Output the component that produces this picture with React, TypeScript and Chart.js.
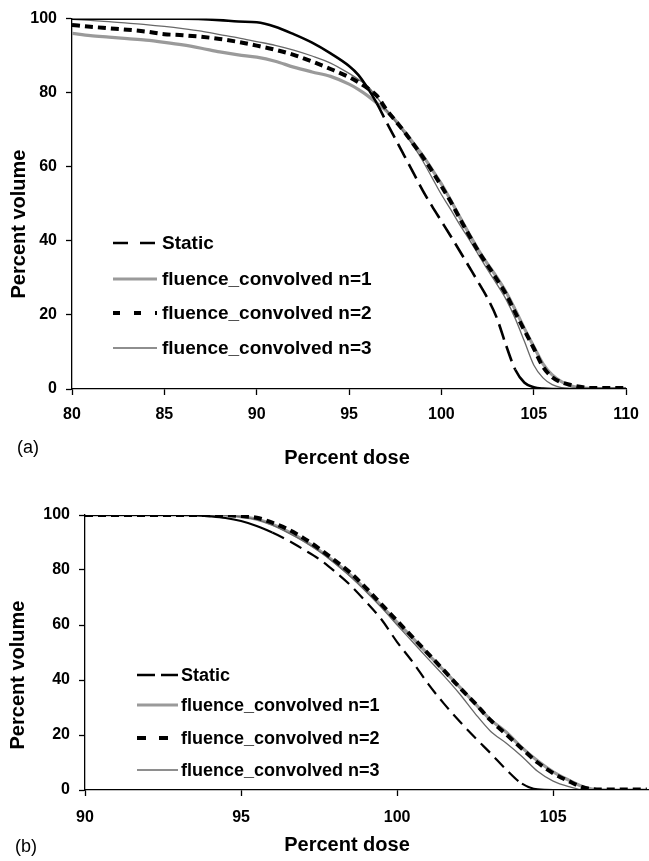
import React, { useEffect, useRef } from "react";
import { Chart, registerables } from "chart.js";

Chart.register(...registerables);

const FONT = "'Liberation Sans', Arial, Helvetica, sans-serif";

const SERIES_LABELS = [
  "Static",
  "fluence_convolved n=1",
  "fluence_convolved n=2",
  "fluence_convolved n=3",
];
const Y_TICKS = [0, 20, 40, 60, 80, 100];
const X_TITLE = "Percent dose";
const Y_TITLE = "Percent volume";

// ---------- Panel (a) ----------
const A_X_TICKS = [80, 85, 90, 95, 100, 105, 110];
const A_STATIC_DOSE = [80, 86, 88, 89, 90, 91, 92, 93, 94, 95, 95.5, 96, 96.5, 97, 97.5, 98, 98.5, 99, 99.5, 100, 100.5, 101, 101.5, 102, 102.5, 103, 103.5, 104, 104.5, 105, 105.5, 106, 110];
const A_STATIC_VOL = [100, 100, 99.6, 99.2, 99.0, 97.8, 95.8, 93.5, 90.6, 87.2, 84.8, 81.3, 77.2, 72.3, 67.6, 62.9, 58.2, 53.5, 49.3, 45.3, 41.3, 37.2, 33.0, 28.8, 24.5, 19.2, 11.8, 5.2, 1.7, 0.5, 0.1, 0, 0];
const A_CONV_DOSE = [80, 81, 82, 83, 84, 85, 86, 87, 88, 89, 90, 91, 92, 93, 94, 95, 95.5, 96, 96.5, 97, 97.5, 98, 98.5, 99, 99.5, 100, 100.5, 101, 101.5, 102, 102.5, 103, 103.5, 104, 104.5, 105, 105.5, 106, 106.5, 107, 107.5, 108, 110];
const A_N1_VOL = [96.0, 95.4, 95.0, 94.6, 94.2, 93.6, 92.9, 92.0, 91.0, 90.2, 89.6, 88.5, 86.9, 85.6, 84.4, 82.3, 80.9, 79.2, 77.2, 75.2, 72.6, 69.5, 66.3, 63.0, 59.2, 55.4, 51.0, 46.4, 41.9, 37.6, 33.8, 30.2, 26.2, 21.4, 16.3, 11.5, 6.8, 3.8, 2.0, 0.9, 0.4, 0.2, 0.1];
const A_N2_VOL = [98.3, 97.8, 97.4, 97.0, 96.5, 95.8, 95.5, 95.1, 94.5, 93.7, 92.7, 91.6, 90.2, 88.4, 86.4, 84.2, 82.8, 81.2, 79.2, 75.6, 72.5, 69.4, 66.0, 62.6, 58.8, 54.8, 50.6, 46.0, 41.5, 37.2, 33.4, 29.6, 25.6, 20.6, 15.8, 11.0, 6.0, 3.2, 1.8, 1.1, 0.6, 0.3, 0.3];
const A_N3_VOL = [99.8, 99.5, 99.2, 98.8, 98.4, 97.9, 97.3, 96.6, 95.7, 94.8, 93.8, 92.8, 91.5, 89.9, 88.0, 85.2, 83.6, 81.8, 78.8, 75.5, 72.3, 69.0, 65.5, 61.5, 57.0, 52.5, 48.5, 44.3, 40.4, 36.3, 32.2, 28.3, 24.2, 19.0, 12.8, 6.5, 3.0, 1.2, 0.4, 0.1, 0, 0, 0];

// ---------- Panel (b) ----------
const B_X_TICKS = [90, 95, 100, 105];
const B_STATIC_DOSE = [90, 93, 93.5, 94, 94.5, 95, 95.5, 96, 96.5, 97, 97.5, 98, 98.5, 99, 99.5, 100, 100.5, 101, 101.5, 102, 102.5, 103, 103.5, 104, 104.5, 105, 108];
const B_STATIC_VOL = [100, 100, 99.9, 99.5, 98.9, 97.8, 96.0, 93.6, 90.8, 87.5, 84.0, 79.5, 74.5, 68.5, 62.0, 53.8, 46.5, 38.5, 31.4, 25.0, 19.0, 13.3, 7.4, 2.3, 0.2, 0, 0];
const B_CONV_DOSE = [90, 94, 94.5, 95, 95.5, 96, 96.5, 97, 97.5, 98, 98.5, 99, 99.5, 100, 100.5, 101, 101.5, 102, 102.5, 103, 103.5, 104, 104.5, 105, 105.5, 106, 106.5, 108];
const B_N1_VOL = [100, 100, 99.9, 99.4, 98.5, 96.6, 94.0, 90.9, 87.2, 82.9, 78.2, 72.8, 67.0, 61.0, 55.2, 49.2, 43.4, 37.5, 31.4, 25.5, 21.0, 15.4, 10.6, 6.6, 3.6, 1.0, 0.1, 0];
const B_N2_VOL = [100, 100, 99.9, 99.6, 99.0, 97.2, 94.8, 91.6, 87.8, 83.5, 79.0, 73.5, 67.5, 61.5, 55.5, 49.5, 43.5, 37.3, 31.5, 25.3, 20.2, 15.0, 10.0, 6.1, 3.2, 0.8, 0.2, 0.2];
const B_N3_VOL = [100, 100, 99.9, 99.3, 98.3, 96.3, 93.6, 90.5, 86.8, 82.5, 77.6, 72.2, 66.3, 60.0, 53.8, 47.6, 41.5, 35.0, 27.8, 21.3, 17.0, 12.2, 6.8, 3.2, 1.2, 0, 0, 0];

const pts = (xs: number[], ys: number[]) => xs.map((x, i) => ({ x, y: ys[i] }));

type PanelCfg = {
  top: number;
  height: number;
  xMin: number;
  xMax: number;
  xTicks: number[];
  series: { x: number; y: number }[][];
  yWidth: number;
  xHeight: number;
  padTop: number;
  padRight: number;
  staticSolidAbove: number;
  staticSolidBelow: number;
  staticDash: number[];
  staticWidth: number;
  yTitle: { x: number; y: number };
  xTitle: { x: number; y: number };
  tag: { text: string; x: number; y: number };
  legend: { x0: number; x1: number; tx: number; rows: number[]; staticDash: number[]; n2Dash: number[]; size: number };
  tickPadX: number;
};

const PANELS: PanelCfg[] = [
  {
    top: 0,
    height: 470,
    xMin: 80,
    xMax: 110,
    xTicks: A_X_TICKS,
    series: [
      pts(A_STATIC_DOSE, A_STATIC_VOL),
      pts(A_CONV_DOSE, A_N1_VOL),
      pts(A_CONV_DOSE, A_N2_VOL),
      pts(A_CONV_DOSE, A_N3_VOL),
    ],
    yWidth: 72,
    xHeight: 81,
    padTop: 16,
    padRight: 15,
    staticSolidAbove: 75,
    staticSolidBelow: 6,
    staticDash: [16, 7],
    staticWidth: 2.6,
    yTitle: { x: 19, y: 224 },
    xTitle: { x: 347, y: 458 },
    tag: { text: "(a)", x: 17, y: 448 },
    legend: { x0: 113, x1: 157, tx: 162, rows: [243, 279, 313, 348], staticDash: [15, 12], n2Dash: [7, 14], size: 19 },
    tickPadX: 10,
  },
  {
    top: 470,
    height: 391,
    xMin: 90,
    xMax: 108.07,
    xTicks: B_X_TICKS,
    series: [
      pts(B_STATIC_DOSE, B_STATIC_VOL),
      pts(B_CONV_DOSE, B_N1_VOL),
      pts(B_CONV_DOSE, B_N2_VOL),
      pts(B_CONV_DOSE, B_N3_VOL),
    ],
    yWidth: 85,
    xHeight: 71,
    padTop: 45,
    padRight: 0,
    staticSolidAbove: 93,
    staticSolidBelow: 3,
    staticDash: [13, 7],
    staticWidth: 2.2,
    yTitle: { x: 18, y: 205 },
    xTitle: { x: 347, y: 375 },
    tag: { text: "(b)", x: 15, y: 377 },
    legend: { x0: 137, x1: 178, tx: 181, rows: [205, 235, 268, 300], staticDash: [18, 6], n2Dash: [9, 13], size: 18 },
    tickPadX: 12,
  },
];

const COLORS = ["#000000", "#9a9a9a", "#000000", "#686868"];

function Panel({ cfg }: { cfg: PanelCfg }) {
  const ref = useRef<HTMLCanvasElement | null>(null);
  useEffect(() => {
    const canvas = ref.current;
    if (!canvas) return;
    const textPlugin = {
      id: "panelTexts",
      afterDraw(chart: any) {
        const ctx = chart.ctx as CanvasRenderingContext2D;
        ctx.save();
        ctx.fillStyle = "#000";
        ctx.save();
        ctx.translate(cfg.yTitle.x, cfg.yTitle.y);
        ctx.rotate(-Math.PI / 2);
        ctx.font = `bold 20px ${FONT}`;
        ctx.textAlign = "center";
        ctx.textBaseline = "middle";
        ctx.fillText(Y_TITLE, 0, 0);
        ctx.restore();
        ctx.font = `bold 20px ${FONT}`;
        ctx.textAlign = "center";
        ctx.textBaseline = "middle";
        ctx.fillText(X_TITLE, cfg.xTitle.x, cfg.xTitle.y);
        ctx.font = `18px ${FONT}`;
        ctx.textAlign = "left";
        ctx.fillText(cfg.tag.text, cfg.tag.x, cfg.tag.y);
        const L = cfg.legend;
        const sampleStyles = [
          { color: COLORS[0], width: 2.6, dash: L.staticDash },
          { color: COLORS[1], width: 3.2, dash: [] as number[] },
          { color: COLORS[2], width: 4, dash: L.n2Dash },
          { color: COLORS[3], width: 1.3, dash: [] as number[] },
        ];
        SERIES_LABELS.forEach((label, i) => {
          const y = L.rows[i];
          const s = sampleStyles[i];
          ctx.beginPath();
          ctx.setLineDash(s.dash);
          ctx.strokeStyle = s.color;
          ctx.lineWidth = s.width;
          ctx.moveTo(L.x0, y);
          ctx.lineTo(L.x1, y);
          ctx.stroke();
          ctx.setLineDash([]);
          ctx.font = `bold ${L.size}px ${FONT}`;
          ctx.textAlign = "left";
          ctx.textBaseline = "middle";
          ctx.fillStyle = "#000";
          ctx.fillText(label, L.tx, y + 1);
        });
        ctx.restore();
      },
    };

    const staticSeg = (c: any) => {
      const a = c.p0.parsed.y;
      const b = c.p1.parsed.y;
      if (Math.min(a, b) > cfg.staticSolidAbove) return [];
      if (Math.max(a, b) < cfg.staticSolidBelow) return [];
      return cfg.staticDash;
    };

    const chart = new Chart(canvas, {
      type: "line",
      data: {
        datasets: [
          {
            label: SERIES_LABELS[0],
            data: cfg.series[0],
            borderColor: COLORS[0],
            borderWidth: cfg.staticWidth,
            borderDash: cfg.staticDash,
            segment: { borderDash: staticSeg },
            order: 0,
          },
          {
            label: SERIES_LABELS[1],
            data: cfg.series[1],
            borderColor: COLORS[1],
            borderWidth: 3.2,
            order: 3,
          },
          {
            label: SERIES_LABELS[2],
            data: cfg.series[2],
            borderColor: COLORS[2],
            borderWidth: 4,
            borderDash: [8, 5],
            order: 1,
          },
          {
            label: SERIES_LABELS[3],
            data: cfg.series[3],
            borderColor: COLORS[3],
            borderWidth: 1.3,
            order: 2,
          },
        ] as any,
      },
      options: {
        animation: false,
        responsive: false,
        maintainAspectRatio: false,
        events: [],
        elements: {
          point: { radius: 0 },
          line: { cubicInterpolationMode: "monotone", fill: false },
        },
        layout: { padding: { left: 0, top: cfg.padTop, right: cfg.padRight, bottom: 0 } },
        plugins: {
          legend: { display: false },
          tooltip: { enabled: false },
          title: { display: false },
        },
        scales: {
          x: {
            type: "linear",
            min: cfg.xMin,
            max: cfg.xMax,
            afterBuildTicks: (s: any) => {
              s.ticks = cfg.xTicks.map((v) => ({ value: v }));
            },
            afterFit: (s: any) => {
              s.height = cfg.xHeight;
            },
            border: { display: true, color: "#000", width: 1.3 },
            grid: { drawOnChartArea: false, color: "#000", tickLength: 6, tickWidth: 1.3 },
            ticks: {
              autoSkip: false,
              maxRotation: 0,
              color: "#000",
              padding: cfg.tickPadX,
              font: { family: FONT, size: 16, weight: "bold" },
            },
          },
          y: {
            type: "linear",
            min: 0,
            max: 100,
            afterBuildTicks: (s: any) => {
              s.ticks = Y_TICKS.map((v) => ({ value: v }));
            },
            afterFit: (s: any) => {
              s.width = cfg.yWidth;
            },
            border: { display: true, color: "#000", width: 1.3 },
            grid: { drawOnChartArea: false, color: "#000", tickLength: 6, tickWidth: 1.3 },
            ticks: {
              color: "#000",
              padding: 9,
              font: { family: FONT, size: 16, weight: "bold" },
            },
          },
        },
      } as any,
      plugins: [textPlugin],
    });
    return () => chart.destroy();
  }, [cfg]);

  return (
    <canvas
      ref={ref}
      width={649}
      height={cfg.height}
      style={{ position: "absolute", left: 0, top: cfg.top, width: 649, height: cfg.height }}
    />
  );
}

export default function App() {
  return (
    <div style={{ position: "absolute", left: 0, top: 0, width: 649, height: 861, background: "#fff", overflow: "hidden" }}>
      {PANELS.map((p, i) => (
        <Panel key={i} cfg={p} />
      ))}
    </div>
  );
}
